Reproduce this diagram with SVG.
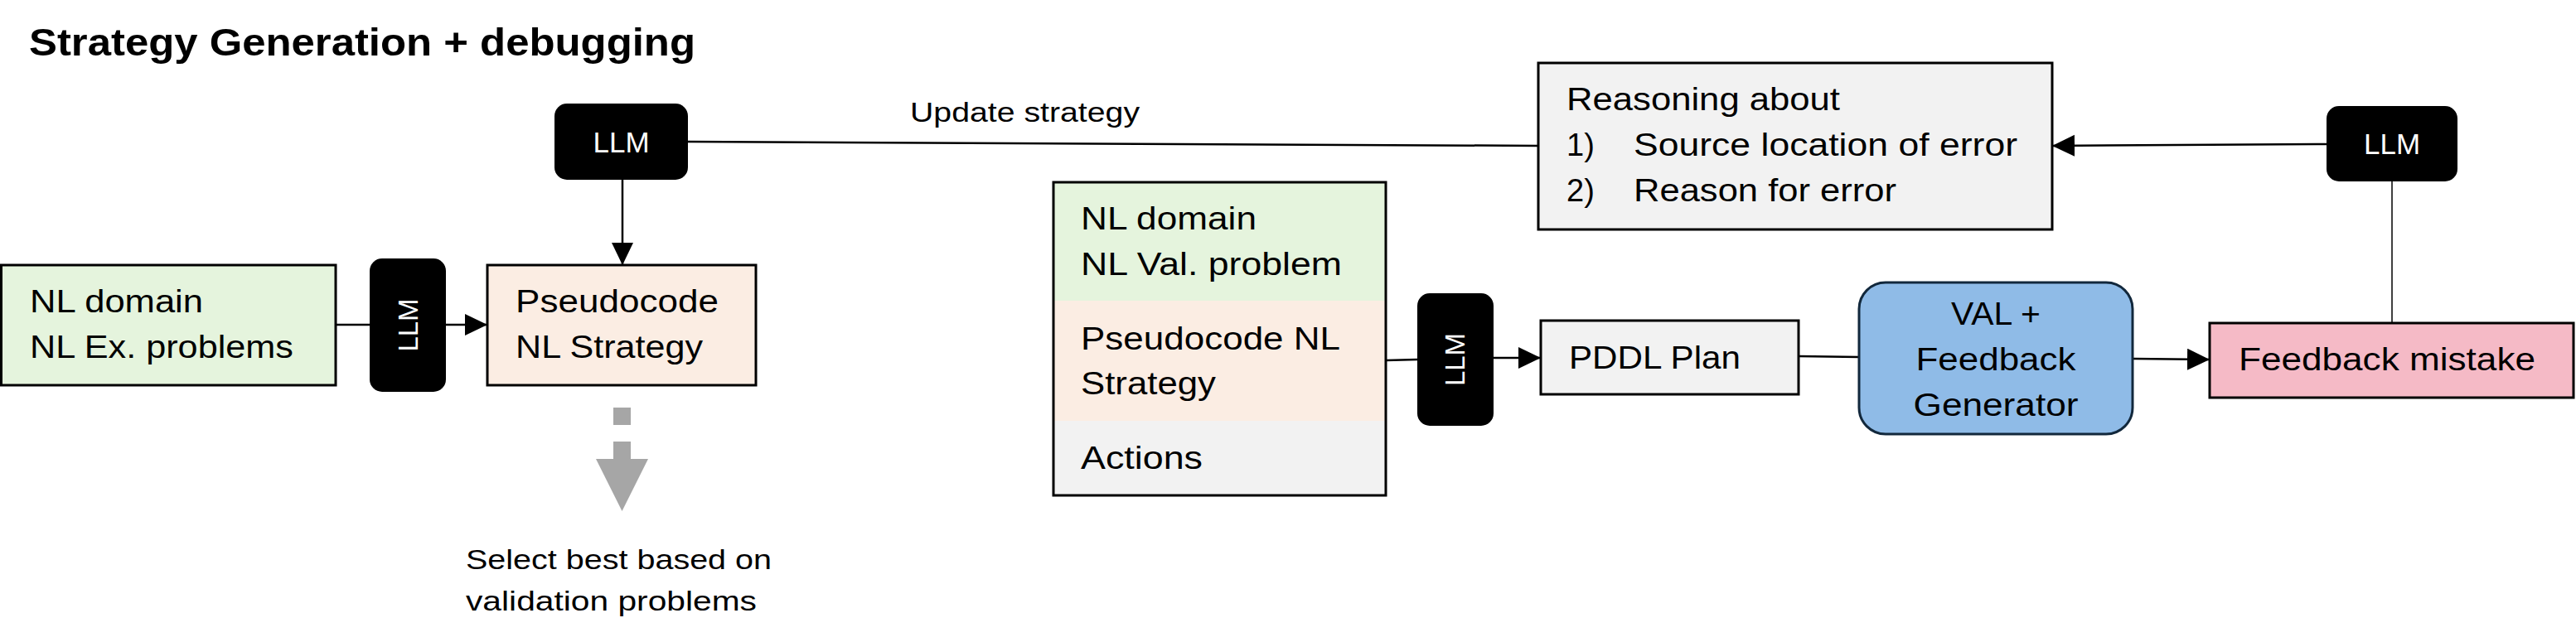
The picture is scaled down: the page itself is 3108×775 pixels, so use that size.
<svg xmlns="http://www.w3.org/2000/svg" width="3108" height="775" viewBox="0 0 3108 775">
<style>
.t{font-family:"Liberation Sans",Arial,sans-serif;font-size:38px;fill:#000}
.s{font-family:"Liberation Sans",Arial,sans-serif;font-size:33px;fill:#000}
.title{font-family:"Liberation Sans",Arial,sans-serif;font-size:46px;font-weight:bold;fill:#000}
.llm{font-family:"Liberation Sans",Arial,sans-serif;font-size:35px;fill:#fff}
.llmv{font-family:"Liberation Sans",Arial,sans-serif;font-size:33px;fill:#fff}
.box{stroke:#000;stroke-width:3}
.blk{fill:#000}
.ln{stroke:#000;stroke-width:2.5;fill:none}
.thin{stroke:#000;stroke-width:1.5;fill:none}
</style>
<defs>
<marker id="ah" markerUnits="userSpaceOnUse" markerWidth="28" markerHeight="28" refX="27" refY="13" orient="auto">
<path d="M0,0 L27,13 L0,26 Z" fill="#000"/>
</marker>
</defs>
<rect width="3108" height="775" fill="#fff"/>
<text id="title" class="title" x="35" y="67" textLength="804" lengthAdjust="spacingAndGlyphs">Strategy Generation + debugging</text>

<g id="connectors">
<line class="ln" x1="829" y1="171" x2="1856" y2="176"/>
<line class="ln" x1="751" y1="217" x2="751" y2="320" marker-end="url(#ah)"/>
<line class="ln" x1="405" y1="392" x2="446" y2="392"/>
<line class="ln" x1="538" y1="392" x2="588" y2="392" marker-end="url(#ah)"/>
<line class="ln" x1="1672" y1="435" x2="1710" y2="434"/>
<line class="ln" x1="1802" y1="432" x2="1859" y2="432" marker-end="url(#ah)"/>
<line class="ln" x1="2170" y1="430" x2="2243" y2="431"/>
<line class="ln" x1="2573" y1="433" x2="2666" y2="434" marker-end="url(#ah)"/>
<line class="thin" x1="2886" y1="390" x2="2886" y2="219"/>
<line class="ln" x1="2807" y1="174" x2="2476" y2="176" marker-end="url(#ah)"/>
<g id="select-arrow" fill="#A6A6A6">
<line x1="750.5" y1="492" x2="750.5" y2="554" stroke="#A6A6A6" stroke-width="21" stroke-dasharray="21 20"/>
<polygon points="719,554 782,554 750.5,617"/>
</g>
<text class="s" x="1098" y="147" textLength="277" lengthAdjust="spacingAndGlyphs">Update strategy</text>
</g>

<g id="nl-domain">
<rect class="box" x="1.5" y="320" width="403.5" height="145" fill="#E5F4DD"/>
<text class="t" x="36" y="377" textLength="209" lengthAdjust="spacingAndGlyphs">NL domain</text>
<text class="t" x="36" y="432" textLength="318" lengthAdjust="spacingAndGlyphs">NL Ex. problems</text>
</g>

<g id="llm-1">
<rect class="blk" x="446" y="312" width="92" height="161" rx="15"/>
<text class="llmv" transform="translate(504,392.5) rotate(-90)" text-anchor="middle">LLM</text>
</g>

<g id="pseudocode">
<rect class="box" x="588" y="320" width="324" height="145" fill="#FBEDE3"/>
<text class="t" x="622" y="377" textLength="245" lengthAdjust="spacingAndGlyphs">Pseudocode</text>
<text class="t" x="622" y="432" textLength="226" lengthAdjust="spacingAndGlyphs">NL Strategy</text>
</g>

<g id="llm-top">
<rect class="blk" x="669" y="125" width="161" height="92" rx="15"/>
<text class="llm" x="749.5" y="184" text-anchor="middle">LLM</text>
</g>

<g id="select-label">
<text class="s" x="562" y="687" textLength="369" lengthAdjust="spacingAndGlyphs">Select best based on</text>
<text class="s" x="562" y="737" textLength="351" lengthAdjust="spacingAndGlyphs">validation problems</text>
</g>

<g id="inputs">
<rect x="1271" y="220" width="401" height="143" fill="#E5F4DD"/>
<rect x="1271" y="363" width="401" height="145" fill="#FBEDE3"/>
<rect x="1271" y="508" width="401" height="90" fill="#F2F2F2"/>
<rect x="1271" y="220" width="401" height="378" fill="none" stroke="#000" stroke-width="3"/>
<text class="t" x="1304" y="277" textLength="212" lengthAdjust="spacingAndGlyphs">NL domain</text>
<text class="t" x="1304" y="332" textLength="315" lengthAdjust="spacingAndGlyphs">NL Val. problem</text>
<text class="t" x="1304" y="422" textLength="313" lengthAdjust="spacingAndGlyphs">Pseudocode NL</text>
<text class="t" x="1304" y="476" textLength="163" lengthAdjust="spacingAndGlyphs">Strategy</text>
<text class="t" x="1304" y="566" textLength="147" lengthAdjust="spacingAndGlyphs">Actions</text>
</g>

<g id="llm-2">
<rect class="blk" x="1710" y="354" width="92" height="160" rx="15"/>
<text class="llmv" transform="translate(1767,434) rotate(-90)" text-anchor="middle">LLM</text>
</g>

<g id="pddl-plan">
<rect class="box" x="1859" y="387" width="311" height="89" fill="#F2F2F2"/>
<text class="t" x="1893" y="445" textLength="207" lengthAdjust="spacingAndGlyphs">PDDL Plan</text>
</g>

<g id="val">
<rect x="2243" y="341" width="330" height="183" rx="32" fill="#8FBBE7" stroke="#12283C" stroke-width="3"/>
<text class="t" x="2408" y="392" text-anchor="middle" textLength="108" lengthAdjust="spacingAndGlyphs">VAL +</text>
<text class="t" x="2408" y="447" text-anchor="middle" textLength="193" lengthAdjust="spacingAndGlyphs">Feedback</text>
<text class="t" x="2408" y="502" text-anchor="middle" textLength="199" lengthAdjust="spacingAndGlyphs">Generator</text>
</g>

<g id="feedback-mistake">
<rect class="box" x="2666" y="390" width="439" height="90" fill="#F5BAC6"/>
<text class="t" x="2701" y="447" textLength="358" lengthAdjust="spacingAndGlyphs">Feedback mistake</text>
</g>

<g id="llm-right">
<rect class="blk" x="2807" y="128" width="158" height="91" rx="15"/>
<text class="llm" x="2886" y="186" text-anchor="middle">LLM</text>
</g>

<g id="reasoning">
<rect class="box" x="1856" y="76" width="620" height="201" fill="#F2F2F2"/>
<text class="t" x="1890" y="133" textLength="330" lengthAdjust="spacingAndGlyphs">Reasoning about</text>
<text class="t" x="1890" y="188">1)</text>
<text class="t" x="1971" y="188" textLength="463" lengthAdjust="spacingAndGlyphs">Source location of error</text>
<text class="t" x="1890" y="243">2)</text>
<text class="t" x="1971" y="243" textLength="317" lengthAdjust="spacingAndGlyphs">Reason for error</text>
</g>
</svg>
